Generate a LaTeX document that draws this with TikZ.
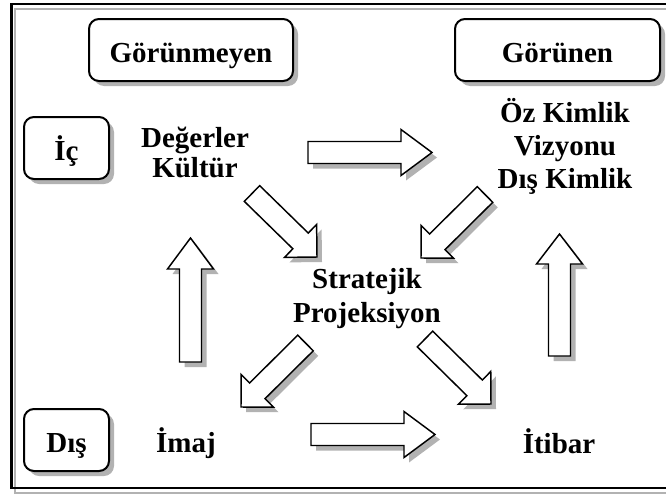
\documentclass[tikz,border=0pt]{standalone}
\usepackage{fontspec}
\setmainfont{Liberation Serif}
\usetikzlibrary{calc,shadows}
% half widths of the block arrows
\def\shaftw{8.25pt}
\def\headw{17.25pt}
\begin{document}
\begin{tikzpicture}[x=0.75pt,y=-0.75pt,
  shade color/.style={fill=black!30},
  tag/.style={draw, line width=1.5pt, fill=white, rounded corners=7.5pt,
    minimum height=46.5pt, inner sep=0pt, text height=18pt, text depth=0pt,
    font=\fontsize{21.75}{25}\selectfont\bfseries,
    drop shadow={shadow xshift=3.75pt, shadow yshift=-3.75pt, fill=black!30, opacity=1}},
  term/.style={inner sep=0pt, anchor=base, align=center,
    font=\fontsize{21.75}{25.5}\selectfont\bfseries},
  arrowbody/.style={draw, fill=white, line width=1.1pt, line join=miter},
  % outline of a block arrow: tail centre, head-base centre, tip
  arrowoutline/.style n args={3}{insert path={
    ($(#1)!\shaftw!90:(#3)$) --
    ($(#2)!\shaftw!90:(#3)$) --
    ($(#2)!\headw!90:(#3)$) --
    (#3) --
    ($(#2)!\headw!-90:(#3)$) --
    ($(#2)!\shaftw!-90:(#3)$) --
    ($(#1)!\shaftw!-90:(#3)$) -- cycle}},
  arrowshadow/.style={shade color, transform canvas={xshift=3.75pt, yshift=-3.75pt}}
]
\useasboundingbox (0,0) rectangle (666,496);
\clip (0,0) rectangle (666,496);

% outer frame with its shadow line
\draw[black!30, line width=1.5pt] (15,8.5) rectangle (684,492.5);
\draw[line width=1.9pt] (11.5,4) rectangle (680,488);

% header and row tags
\node[tag, minimum width=153pt] (hidden) at (191,50) {Görünmeyen};
\node[tag, minimum width=153.75pt] (visible) at (557.5,50) {Görünen};
\node[tag, minimum width=63.75pt] (inner) at (66.5,148) {İç};
\node[tag, minimum width=63.75pt] (outer) at (66.5,440) {Dış};

% terms (anchored at the baseline of their last line)
\node[term, font=\fontsize{21.75}{22.5}\selectfont\bfseries] (values) at (195,177) {Değerler\\Kültür};
\node[term, font=\fontsize{21.75}{24.75}\selectfont\bfseries] (identity) at (565,188) {Öz Kimlik\\Vizyonu\\Dış Kimlik};
\node[term] (projection) at (367,322) {Stratejik\\Projeksiyon};
\node[term] (image) at (186,452) {İmaj};
\node[term] (reputation) at (559,453) {İtibar};

% block arrow end points
\coordinate (a1t) at (308,152.5);  \coordinate (a1h) at (432,152.5);
\coordinate (a2t) at (311,434.5);  \coordinate (a2h) at (435,434.5);
\coordinate (a3t) at (190.5,362);  \coordinate (a3h) at (190.5,238);
\coordinate (a4t) at (559.5,356);  \coordinate (a4h) at (559.5,234);
\coordinate (d1t) at (252,193.5);  \coordinate (d1h) at (317,257);
\coordinate (d2t) at (485,194.5);  \coordinate (d2h) at (421,258);
\coordinate (d3t) at (305.5,343);  \coordinate (d3h) at (241,407);
\coordinate (d4t) at (425,339);    \coordinate (d4h) at (491,404);
% head-base centres
\coordinate (a1b) at ($(a1h)!23.25pt!(a1t)$);
\coordinate (a2b) at ($(a2h)!23.25pt!(a2t)$);
\coordinate (a3b) at ($(a3h)!23.25pt!(a3t)$);
\coordinate (a4b) at ($(a4h)!22.5pt!(a4t)$);
\coordinate (d1b) at ($(d1h)!17.25pt!(d1t)$);
\coordinate (d2b) at ($(d2h)!17.25pt!(d2t)$);
\coordinate (d3b) at ($(d3h)!17.25pt!(d3t)$);
\coordinate (d4b) at ($(d4h)!17.25pt!(d4t)$);

% block arrows: shadow first, then the white body
\foreach \a in {a1,a2,a3,a4,d1,d2,d3,d4}{
  \path[arrowshadow, arrowoutline={\a t}{\a b}{\a h}];
  \path[arrowbody, arrowoutline={\a t}{\a b}{\a h}];
}
\end{tikzpicture}
\end{document}
